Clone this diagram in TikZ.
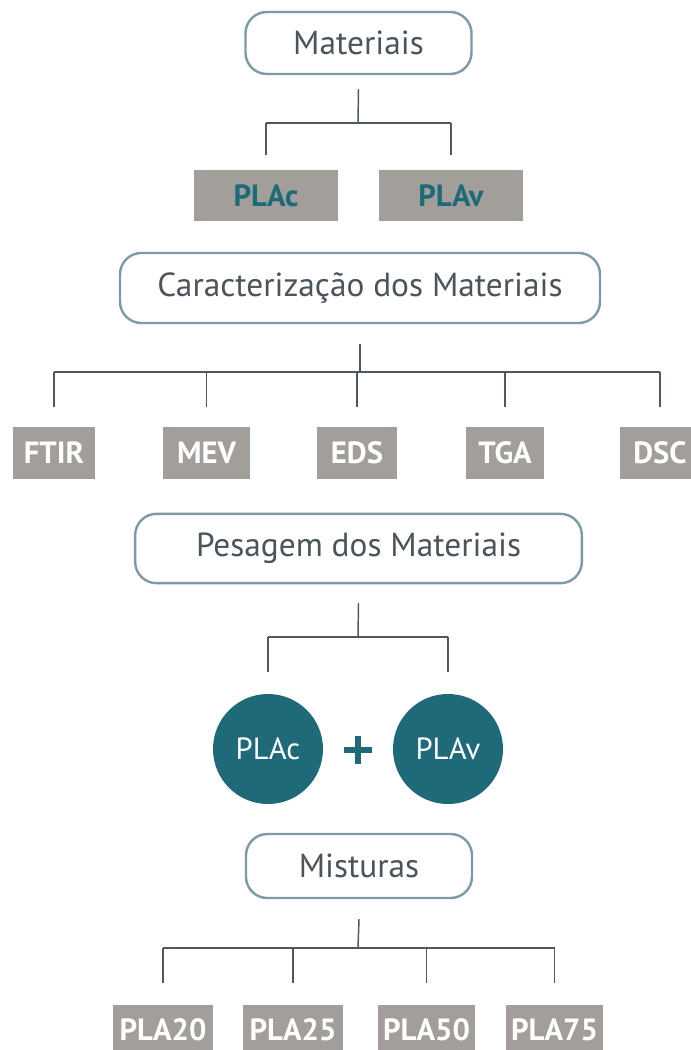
\documentclass[tikz,border=0pt]{standalone}
\usepackage{fontspec}
\setmainfont{PT Sans}
\usetikzlibrary{positioning}

\definecolor{boxline}{RGB}{124,155,166}
\definecolor{txtgrey}{RGB}{75,83,91}
\definecolor{labgrey}{RGB}{162,159,154}
\definecolor{petrol}{RGB}{31,106,120}
\definecolor{linegrey}{RGB}{79,88,98}

\tikzset{
	stagebox/.style={draw=boxline, line width=1.8pt, rounded corners=16pt, fill=white, text=txtgrey, font=\fontsize{25}{28}\selectfont, inner sep=0pt},
	tagbox/.style={fill=labgrey, text=white, font=\bfseries\fontsize{23}{26}\selectfont, inner sep=0pt},
	blend/.style={circle, fill=petrol, text=white, font=\fontsize{23}{26}\selectfont, minimum size=82.5pt, inner sep=0pt},
	conn/.style={draw=linegrey, line width=1.1pt}}
\tikzset{every picture/.style={line width=0.75pt}}

\begin{document}
\begin{tikzpicture}[x=0.75pt,y=0.75pt,yscale=-1,xscale=1]
	\clip (0,0) rectangle (691,1050);
	\fill[white] (0,0) rectangle (691,1050);

	%Stage boxes
	\node[stagebox, minimum width=169.5pt, minimum height=46.5pt] (mat) at (358.5,43) {Materiais};
	\node[stagebox, minimum width=360pt, minimum height=52.5pt] (car) at (360,288) {Caracterização dos Materiais};
	\node[stagebox, minimum width=335pt, minimum height=52pt] (pes) at (358.5,548.5) {Pesagem dos Materiais};
	\node[stagebox, minimum width=169.5pt, minimum height=48pt] (mis) at (359,866) {Misturas};

	%Grey tags, top
	\node[tagbox, text=petrol, minimum width=108pt, minimum height=38pt] (plac) at (266,195.5) {PLAc};
	\node[tagbox, text=petrol, minimum width=108pt, minimum height=38pt] (plav) at (451,195.5) {PLAv};

	%Grey tags, analyses
	\node[tagbox, minimum width=61.5pt, minimum height=39pt] (ftir) at (54,453) {FTIR};
	\node[tagbox, minimum width=65pt, minimum height=39pt] (mev) at (206.5,453) {MEV};
	\node[tagbox, minimum width=60pt, minimum height=39pt] (eds) at (357,453) {EDS};
	\node[tagbox, minimum width=58.5pt, minimum height=39pt] (tga) at (505,453) {TGA};
	\node[tagbox, minimum width=60pt, minimum height=39pt] (dsc) at (660,453) {DSC};

	%Circles and plus
	\node[blend] (mixc) at (268,749) {PLAc};
	\node[blend] (mixv) at (448,749) {PLAv};
	\draw[petrol, line width=4.5pt] (344,750) -- (372,750) (358,736) -- (358,764);

	%Grey tags, blends
	\node[tagbox, minimum width=75pt, minimum height=37.5pt] (p20) at (163,1030) {PLA20};
	\node[tagbox, minimum width=75pt, minimum height=37.5pt] (p25) at (293,1030) {PLA25};
	\node[tagbox, minimum width=73pt, minimum height=37.5pt] (p50) at (426.5,1030) {PLA50};
	\node[tagbox, minimum width=73pt, minimum height=37.5pt] (p75) at (554.5,1030) {PLA75};

	%Junctions
	\coordinate (j1) at (358,123);
	\coordinate (j2) at (357,372);
	\coordinate (j3) at (358,637);
	\coordinate (j4) at (358,948);

	%Connectors
	\draw[conn] ([yshift=10.5pt]mat.south) -- (j1);
	\draw[conn] (plac.north |- j1) -- (plav.north |- j1);
	\foreach \n in {plac,plav}
		\draw[conn] (\n.north |- j1) -- ([yshift=-11pt]\n.north);

	\draw[conn] ([yshift=15pt]car.south) -- (car.south |- j2);
	\draw[conn] (ftir.north |- j2) -- (dsc.north |- j2);
	\foreach \n in {ftir,mev,eds,tga,dsc}
		\draw[conn] (\n.north |- j2) -- ([yshift=-15pt]\n.north);

	\draw[conn] ([yshift=14pt]pes.south) -- (j3);
	\draw[conn] (mixc.north |- j3) -- (mixv.north |- j3);
	\foreach \n in {mixc,mixv}
		\draw[conn] (\n.north |- j3) -- ([yshift=-16pt]\n.north);

	\draw[conn] ([yshift=15pt]mis.south) -- (j4);
	\draw[conn] (p20.north |- j4) -- (p75.north |- j4);
	\foreach \n in {p20,p25,p50,p75}
		\draw[conn] (\n.north |- j4) -- ([yshift=-16.5pt]\n.north);

\end{tikzpicture}
\end{document}
